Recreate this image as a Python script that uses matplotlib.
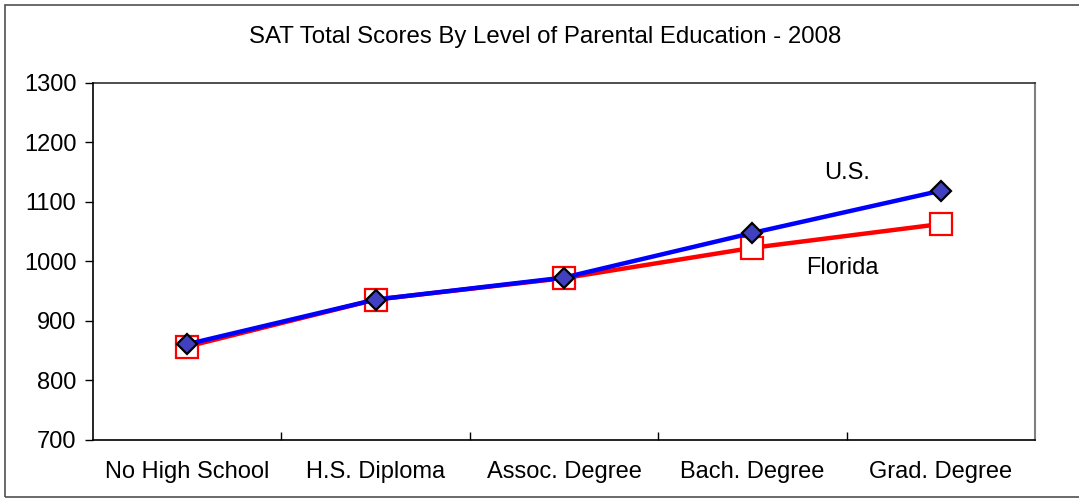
import matplotlib
matplotlib.use("Agg")
import matplotlib.pyplot as plt
from matplotlib.patches import Rectangle

categories = ["No High School", "H.S. Diploma", "Assoc. Degree", "Bach. Degree", "Grad. Degree"]
us_scores = [861, 936, 973, 1048, 1119]
florida_scores = [857, 936, 972, 1023, 1063]
y_ticks = [700, 800, 900, 1000, 1100, 1200, 1300]

plt.rcParams['font.family'] = ['Liberation Sans', 'DejaVu Sans']

fig = plt.figure(figsize=(10.79, 4.99), dpi=100)
ax = fig.add_axes([93/1079, 1 - 440/499, (1035-93)/1079, (440-83)/499])

x = list(range(len(categories)))
ax.plot(x, florida_scores, color='#FF0000', lw=3.2, marker='s', markersize=16,
        markerfacecolor='white', markeredgecolor='#FF0000', markeredgewidth=1.6, zorder=3)
ax.plot(x, us_scores, color='#0000FF', lw=3.2, marker='D', markersize=10.5,
        markerfacecolor='#4040C0', markeredgecolor='black', markeredgewidth=1.6, zorder=4)

ax.set_xlim(-0.5, len(categories) - 0.5)
ax.set_ylim(700, 1300)
ax.set_yticks(y_ticks)
ax.set_yticklabels([str(v) for v in y_ticks], fontsize=17)
ax.set_xticks([i + 0.5 for i in range(len(categories) - 1)])
ax.set_xticklabels([])
ax.set_xticks(x, minor=True)
ax.set_xticklabels(categories, minor=True, fontsize=17)
ax.tick_params(axis='x', which='minor', length=0, pad=15)
ax.tick_params(axis='x', which='major', direction='in', length=6, width=1)
ax.tick_params(axis='y', direction='out', length=6, width=1, pad=6)

for s in ['left', 'bottom']:
    ax.spines[s].set_linewidth(1.2)
    ax.spines[s].set_zorder(5)
ax.spines['top'].set_color('#303030')
ax.spines['top'].set_linewidth(1.2)
ax.spines['right'].set_color('#808080')
ax.spines['right'].set_linewidth(1.5)

ax.text(3.5, 1149, "U.S.", fontsize=17, ha='center', va='center')
ax.text(3.476, 989, "Florida", fontsize=17, ha='center', va='center')

fig.text(545/1079, 1 - 37/499, "SAT Total Scores By Level of Parental Education - 2008",
         fontsize=17.3, ha='center', va='center')

fig.patches.append(Rectangle((5/1079, 2/499), 1090/1079, 492/499, transform=fig.transFigure,
                             fill=False, edgecolor='#505050', lw=1.2))

fig.savefig("out.png", dpi=100)
